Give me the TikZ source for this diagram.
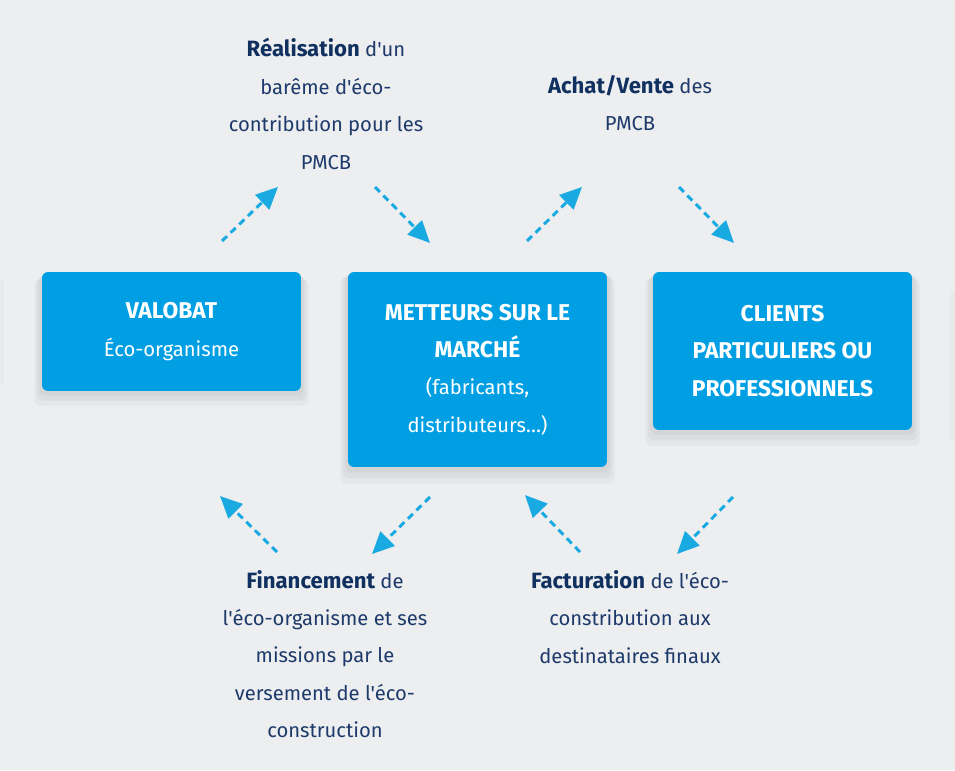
\documentclass[tikz,border=0pt]{standalone}
\usepackage{fontspec}
\setmainfont{Fira Sans}[Ligatures=TeXOff]
\usetikzlibrary{arrows.meta,shadows}

\definecolor{bluvalo}{HTML}{009FE3}
\definecolor{frecciablu}{HTML}{1AAAE2}
\definecolor{testoblu}{HTML}{1E3A6A}
\definecolor{grassetto}{HTML}{10305F}
\definecolor{sfondo}{HTML}{ECEEF0}

% Grassetto un po' piu' largo, come nel riferimento
\newcommand{\grande}[1]{{\fontsize{12.6}{21.3}\selectfont\bfseries #1}}
\newcommand{\titolo}[1]{{\fontsize{13}{21.3}\selectfont\bfseries #1}}

\begin{document}
\begin{tikzpicture}[x=0.02cm, y=-0.02cm,
                % Ombra sfumata a strati
                ombra/.style={
                    general shadow={shadow xshift=0pt, shadow yshift=-2pt, shadow scale=1.02, opacity=0.035, fill=black},
                    general shadow={shadow xshift=0pt, shadow yshift=-4pt, shadow scale=1.04, opacity=0.035, fill=black},
                    general shadow={shadow xshift=0pt, shadow yshift=-6pt, shadow scale=1.06, opacity=0.03, fill=black}
                },
                % Stile dei blocchi blu
                blocco/.style={
                    fill=bluvalo,
                    rounded corners=0.12cm,
                    minimum width=5.18cm,
                    text=white,
                    align=center,
                    inner sep=0pt,
                    font=\fontsize{11.5}{21.3}\selectfont,
                    ombra
                },
                % Stile delle didascalie
                didascalia/.style={
                    text=testoblu,
                    align=center,
                    inner sep=0pt,
                    font=\fontsize{11.5}{21.3}\selectfont
                },
                % Stile per le frecce tratteggiate
                freccia/.style={
                    -{Triangle[length=0.44cm, width=0.4cm]},
                    draw=frecciablu,
                    line width=1.7pt,
                    dash pattern=on 0.14cm off 0.1cm
                }
            ]

                % 0. Sfondo e bordi delle schede vicine
                \fill[sfondo] (0,0) rectangle (955,770);
                \useasboundingbox (0,0) rectangle (955,770);
                \fill[sfondo!98!black] (0,280) rectangle (4,385);
                \fill[sfondo!98!black] (950,290) rectangle (955,440);

                % 1. I tre blocchi
                \node [blocco, minimum height=2.38cm] (valobat) at (171.5,331.5)
                    {\titolo{VALOBAT}\\\'Eco-organisme};
                \node [blocco, minimum height=3.9cm] (metteurs) at (477.5,369.5)
                    {\titolo{METTEURS SUR LE}\\\titolo{MARCH\'E}\\(fabricants,\\distributeurs…)};
                \node [blocco, minimum height=3.16cm] (clients) at (782.5,351)
                    {\titolo{CLIENTS}\\\titolo{PARTICULIERS OU}\\\titolo{PROFESSIONNELS}};

                % 2. Didascalie sopra
                \node [didascalia] (bareme) at (326,104)
                    {\textcolor{grassetto}{\grande{R\'ealisation}} d'un\\bar\^eme d'\'eco-\\contribution pour les\\PMCB};
                \node [didascalia] (achat) at (630,103)
                    {\textcolor{grassetto}{\grande{Achat/Vente}} des\\PMCB};

                % 3. Didascalie sotto
                \node [didascalia] (financement) at (325,654)
                    {\textcolor{grassetto}{\grande{Financement}} de\\l'\'eco-organisme et ses\\missions par le\\versement de l'\'eco-\\construction};
                \node [didascalia] (facturation) at (630,617)
                    {\textcolor{grassetto}{\grande{Facturation}} de l'\'eco-\\constribution aux\\destinataires finaux};

                % 4. Estremi delle frecce
                \coordinate (f1a) at (222,241); \coordinate (f1b) at (278,187);
                \coordinate (f2a) at (375,187); \coordinate (f2b) at (430,243);
                \coordinate (f3a) at (527,241); \coordinate (f3b) at (582,187);
                \coordinate (f4a) at (679,187); \coordinate (f4b) at (734,243);
                \coordinate (f5a) at (277,552); \coordinate (f5b) at (220,496);
                \coordinate (f6a) at (430,497); \coordinate (f6b) at (372,554);
                \coordinate (f7a) at (580,552); \coordinate (f7b) at (525,495);
                \coordinate (f8a) at (733,497); \coordinate (f8b) at (677,554);

                % 5. Frecce tratteggiate
                \foreach \n in {1,...,8}
                    \draw [freccia] (f\n a) -- (f\n b);

            \end{tikzpicture}
\end{document}
